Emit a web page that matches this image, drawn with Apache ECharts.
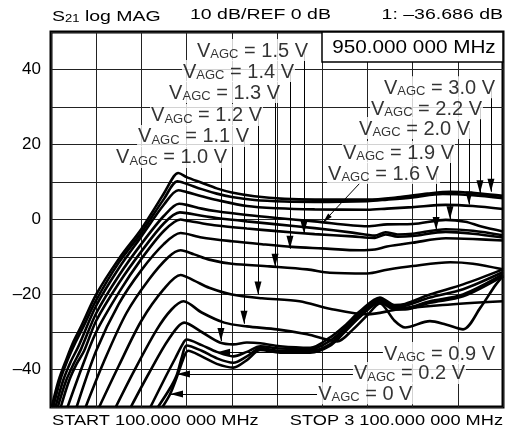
<!DOCTYPE html>
<html>
<head>
<meta charset="utf-8">
<script src="https://cdn.jsdelivr.net/npm/echarts@6/dist/echarts.min.js"></script>
<style>
  html, body { margin: 0; padding: 0; background: #fff; }
  #grafico { width: 506px; height: 440px; }
</style>
</head>
<body>
<div id="grafico"></div>
<script>
// S21 traces, [MHz, dB], one per V_AGC setting
var agc30 = [[105,-50],[150,-43],[200,-37.5],[250,-32.5],[300,-28.5],[400,-20],[550,-10.5],[700,-2.5],[850,7],[915,11.5],[945,12.4],[1000,11.3],[1100,9.8],[1200,8.3],[1300,7.2],[1450,6.2],[1650,5.5],[1850,5.3],[2200,5.3],[2400,5.9],[2600,6.9],[2750,7.4],[2900,7.1],[3100,6.3]];
var agc22 = [[115,-50],[160,-43],[210,-37.5],[260,-33],[310,-29],[400,-21.5],[550,-11.5],[700,-3.5],[850,5.5],[940,10.2],[1000,9.5],[1100,8.1],[1200,6.9],[1300,6.0],[1450,5.2],[1650,4.8],[1850,4.7],[2200,4.9],[2330,5.3],[2500,5.9],[2700,6.8],[2900,6.5],[3100,5.7]];
var agc20 = [[130,-50],[180,-43],[230,-38],[280,-34],[400,-23],[550,-13],[700,-4.5],[850,4],[945,7.8],[1000,7.3],[1100,6.2],[1200,5.2],[1400,3.6],[1600,3.0],[1850,2.7],[2200,2.6],[2330,2.9],[2500,3.3],[2720,3.9],[2900,3.6],[3100,2.8]];
var agc19 = [[145,-50],[200,-43],[250,-38.5],[300,-34.5],[400,-25],[550,-15],[700,-6.5],[850,1],[950,4.2],[1000,3.9],[1100,2.9],[1200,2.2],[1400,1.2],[1600,0.4],[1850,-0.5],[2200,-1.8],[2330,-1.3],[2500,-1.2],[2720,-0.1],[2850,-0.6],[2950,-1.8],[3100,-3.2]];
var agc16 = [[165,-50],[220,-43],[270,-38.5],[320,-35],[400,-27],[550,-17],[700,-8.5],[850,-1],[955,1.9],[1000,1.7],[1100,1.0],[1200,0.4],[1400,-0.5],[1600,-1.3],[1850,-2.3],[2100,-3.5],[2250,-4.3],[2320,-3.4],[2400,-4.0],[2500,-3.8],[2720,-2.6],[2900,-3.0],[3100,-4.2]];
var agc15 = [[210,-50],[300,-40],[400,-30],[550,-19.5],[700,-10.5],[850,-3],[960,0],[1000,-0.3],[1100,-1.0],[1200,-1.6],[1400,-2.4],[1600,-3.1],[1850,-3.9],[2100,-4.5],[2250,-4.9],[2320,-4.0],[2400,-4.6],[2500,-4.4],[2720,-3.3],[2900,-3.8],[3100,-4.8]];
var agc14 = [[270,-50],[400,-35],[550,-22.5],[700,-13.5],[850,-6.5],[960,-3.6],[1100,-4.8],[1300,-5.8],[1500,-6.6],[1700,-7.3],[1900,-7.7],[2150,-8.2],[2250,-8.0],[2330,-7.2],[2500,-6.2],[2720,-5.0],[2900,-5.2],[3100,-5.6]];
var agc13 = [[330,-50],[450,-38],[600,-25],[750,-16],[880,-10],[960,-8.2],[1050,-9.3],[1150,-10.7],[1300,-11.8],[1550,-12.5],[1800,-13.3],[1950,-14.2],[2200,-14.4],[2330,-13.4],[2500,-12.4],[2750,-11.4],[2900,-11.8],[3100,-13.3]];
var agc12 = [[420,-50],[550,-39],[700,-27],[850,-18.5],[960,-14.8],[1050,-16.3],[1150,-18.2],[1300,-20],[1500,-21],[1750,-21.8],[1950,-23.8],[2200,-25.3],[2400,-24],[2700,-22.8],[3100,-21.8]];
var agc11 = [[530,-50],[650,-40.5],[800,-29.5],[900,-24],[980,-21.8],[1100,-24.8],[1250,-27.5],[1400,-28.5],[1600,-29.3],[1800,-30.6],[2000,-32.5],[2100,-29.5],[2200,-25.5],[2283,-22.4],[2380,-27],[2450,-28.8],[2615,-27.1],[2720,-28],[2835,-29.3],[2950,-23.5],[3050,-17.5],[3100,-15.1]];
var agc10 = [[630,-50],[750,-41],[880,-32],[985,-27.5],[1100,-30],[1220,-32.8],[1310,-33.3],[1400,-32.8],[1490,-33],[1620,-33.8],[1820,-34.2],[1950,-31.5],[2050,-28.3],[2150,-24.5],[2283,-20.8],[2380,-22.8],[2450,-22.5],[2615,-20],[2835,-17.3],[3100,-13.3]];
var agc09 = [[760,-50],[860,-42],[925,-37],[970,-33.5],[1000,-32],[1100,-33.5],[1200,-35.3],[1310,-36.5],[1400,-35.3],[1490,-33.8],[1620,-34.4],[1820,-34.6],[1950,-32.4],[2050,-29],[2150,-25],[2283,-21.2],[2380,-23.3],[2450,-23],[2615,-20.8],[2835,-18.6],[3100,-14]];
var agc02 = [[810,-50],[890,-45],[936,-41.3],[970,-36.5],[1000,-33.6],[1100,-35],[1200,-37],[1310,-38.2],[1400,-36.5],[1490,-34.3],[1620,-35],[1820,-35],[1950,-33.3],[2050,-29.5],[2150,-25.5],[2283,-21.6],[2380,-23.6],[2450,-23.6],[2615,-21.8],[2835,-20],[3100,-14.6]];
var agc00 = [[840,-50],[890,-46.6],[940,-41.5],[975,-37.5],[1010,-35],[1100,-36.5],[1200,-38.5],[1310,-39.5],[1400,-37.5],[1490,-34.8],[1620,-35.5],[1820,-35.5],[1950,-33.7],[2050,-30],[2150,-26],[2283,-22.1],[2380,-24],[2450,-24],[2615,-22.2],[2835,-20.5],[3100,-15.1]];

var curveNames = ['3.0','2.2','2.0','1.9','1.6','1.5','1.4','1.3','1.2','1.1','1.0','0.9','0.2','0'];
var curves = [agc30, agc22, agc20, agc19, agc16, agc15, agc14, agc13, agc12, agc11, agc10, agc09, agc02, agc00];

// eixo y: rótulos só a cada 20 dB
var yTickLabels = [40, 20, 0, -20, -40];

// callouts: texto, ponto de ancoragem do texto e seta (MHz, dB)
var calloutLabels = ['1.5','1.4','1.3','1.2','1.1','1.0','3.0','2.2','2.0','1.9','1.6','0.9','0.2','0'];
var calloutAnchor = [[1062,45.2],[969,39.6],[877,34.0],[757,27.9],[671,22.3],[525,16.7],
                     [2303,35.3],[2217,29.7],[2138,24.4],[2031,18.0],[1932,12.4],
                     [2303,-35.6],[2104,-40.9],[1866,-46.3]];
var calloutArrows = [
  [[1779,45],[1779,-3.8]], [[1686,39.6],[1686,-7.8]], [[1587,34],[1587,-12.6]],
  [[1474,27.9],[1474,-20.0]], [[1381,22.3],[1381,-27.8]], [[1228,16.7],[1228,-32.4]],
  [[3020,35.3],[3020,7.4]], [[2947,29.7],[2947,7.0]], [[2874,24.4],[2874,4.0]],
  [[2748,18],[2748,0.1]], [[2656,12.4],[2656,-2.8]], [[2150,9.7],[1905,-0.8]],
  [[2303,-35.4],[1202,-35.4]], [[2104,-41.2],[936,-41.2]], [[1866,-46.5],[890,-46.5]]
];

var FONT = '"Liberation Sans", Arial, sans-serif';

// pontas de seta (ponta no ponto final da linha)
var HEAD_DOWN = { symbol: 'path://M0 0 L7 0 L3.5 13 Z', symbolSize: [7, 13], symbolOffset: [0, -6.5] };
var HEAD_LEFT = { symbol: 'path://M0 3.5 L13 0 L13 7 Z', symbolSize: [13, 7], symbolOffset: [6.5, 0] };
var HEAD_DIAG = { symbol: 'path://M0 10 L8.8 4.5 L5.2 1 Z', symbolSize: [8.8, 9], symbolOffset: [4.4, -4.5] };

function pontaDaSeta(a) {
    var fim = a[1];
    var h = a[0][0] === fim[0] ? HEAD_DOWN : (a[0][1] === fim[1] ? HEAD_LEFT : HEAD_DIAG);
    return {
        value: fim,
        symbol: h.symbol,
        symbolSize: h.symbolSize,
        symbolOffset: h.symbolOffset
    };
}

function iniciarGrafico() {
    var el = document.getElementById('grafico');
    var grafico = echarts.init(el, null, { renderer: 'canvas' });

    var series = curves.map(function (pts, i) {
        return {
            name: 'VAGC = ' + curveNames[i] + ' V',
            type: 'line',
            data: pts,
            smooth: 0.3,
            showSymbol: false,
            silent: true,
            clip: true,
            z: 3,
            lineStyle: { color: '#000', width: 2.6 }
        };
    });

    // linhas dos callouts
    series.push({
        type: 'line',
        data: [],
        silent: true,
        z: 4,
        markLine: {
            silent: true,
            animation: false,
            symbol: ['none', 'none'],
            label: { show: false },
            lineStyle: { color: '#000', width: 1, type: 'solid' },
            emphasis: { disabled: true },
            data: calloutArrows.map(function (a) {
                return [{ coord: a[0] }, { coord: a[1] }];
            })
        }
    });

    // pontas das setas
    series.push({
        type: 'scatter',
        silent: true,
        z: 5,
        itemStyle: { color: '#000', opacity: 1 },
        data: calloutArrows.map(pontaDaSeta)
    });

    // textos dos callouts
    series.push({
        type: 'scatter',
        silent: true,
        z: 6,
        symbol: 'circle',
        symbolSize: 0.1,
        itemStyle: { color: 'rgba(0,0,0,0)' },
        data: calloutAnchor.map(function (p, i) {
            return {
                value: p,
                label: { formatter: '{v|V}{s|AGC}{v| = ' + calloutLabels[i] + ' V}' }
            };
        }),
        label: {
            show: true,
            position: 'right',
            distance: 0,
            backgroundColor: '#fff',
            padding: [0, 1, 0, 1],
            rich: {
                v: { fontSize: 20, fontFamily: FONT, color: '#000', lineHeight: 22, verticalAlign: 'bottom' },
                s: { fontSize: 13, fontFamily: FONT, color: '#000', lineHeight: 22, verticalAlign: 'bottom' }
            }
        }
    });

    var option = {
        animation: false,
        backgroundColor: '#fff',
        grid: {
            left: 51, right: 3, top: 32, bottom: 33,
            show: true, borderColor: '#000', borderWidth: 3
        },
        xAxis: {
            type: 'value', min: 100, max: 3100, interval: 300,
            axisLine: { show: false }, axisTick: { show: false },
            axisLabel: { show: false },
            splitLine: { show: true, lineStyle: { color: '#222', width: 1 } }
        },
        yAxis: {
            type: 'value', min: -50, max: 50, interval: 10,
            axisLine: { show: false }, axisTick: { show: false },
            axisLabel: {
                margin: 10, fontSize: 17, fontFamily: FONT, color: '#000',
                formatter: function (v) {
                    return yTickLabels.indexOf(v) >= 0 ? String(v).replace('-', '\u2013') : '';
                }
            },
            splitLine: { show: true, lineStyle: { color: '#222', width: 1 } }
        },
        graphic: [
            {
                type: 'text', x: 52, y: 15, scaleX: 1.3, z: 50,
                style: {
                    text: '{a|S}{b|21}{a| log MAG}',
                    verticalAlign: 'middle', textVerticalAlign: 'middle',
                    rich: {
                        a: { fontSize: 15, fontFamily: FONT, fill: '#000', color: '#000', lineHeight: 18, verticalAlign: 'bottom' },
                        b: { fontSize: 10, fontFamily: FONT, fill: '#000', color: '#000', lineHeight: 18, verticalAlign: 'bottom' }
                    }
                }
            },
            {
                type: 'text', x: 190, y: 15, scaleX: 1.3, z: 50,
                style: { text: '10 dB/REF 0 dB', font: '15px ' + FONT, fill: '#000',
                         verticalAlign: 'middle', textVerticalAlign: 'middle' }
            },
            {
                type: 'text', x: 503, y: 15, scaleX: 1.3, z: 50,
                style: { text: '1: \u201336.686 dB', font: '15px ' + FONT, fill: '#000',
                         align: 'right', textAlign: 'right',
                         verticalAlign: 'middle', textVerticalAlign: 'middle' }
            },
            {
                type: 'text', x: 52, y: 421, scaleX: 1.3, z: 50,
                style: { text: 'START 100.000 000 MHz', font: '14px ' + FONT, fill: '#000',
                         verticalAlign: 'middle', textVerticalAlign: 'middle' }
            },
            {
                type: 'text', x: 503, y: 421, scaleX: 1.3, z: 50,
                style: { text: 'STOP 3 100.000 000 MHz', font: '14px ' + FONT, fill: '#000',
                         align: 'right', textAlign: 'right',
                         verticalAlign: 'middle', textVerticalAlign: 'middle' }
            },
            {
                type: 'rect', z: 40,
                shape: { x: 322, y: 32, width: 181, height: 30 },
                style: { fill: '#fff', stroke: '#000', lineWidth: 1.5 }
            },
            {
                type: 'text', x: 414, y: 48, scaleX: 1.15, z: 50,
                style: { text: '950.000 000 MHz', font: '18px ' + FONT, fill: '#000',
                         align: 'center', textAlign: 'center',
                         verticalAlign: 'middle', textVerticalAlign: 'middle' }
            }
        ],
        series: series
    };
    grafico.setOption(option);
}

iniciarGrafico();
</script>
</body>
</html>
